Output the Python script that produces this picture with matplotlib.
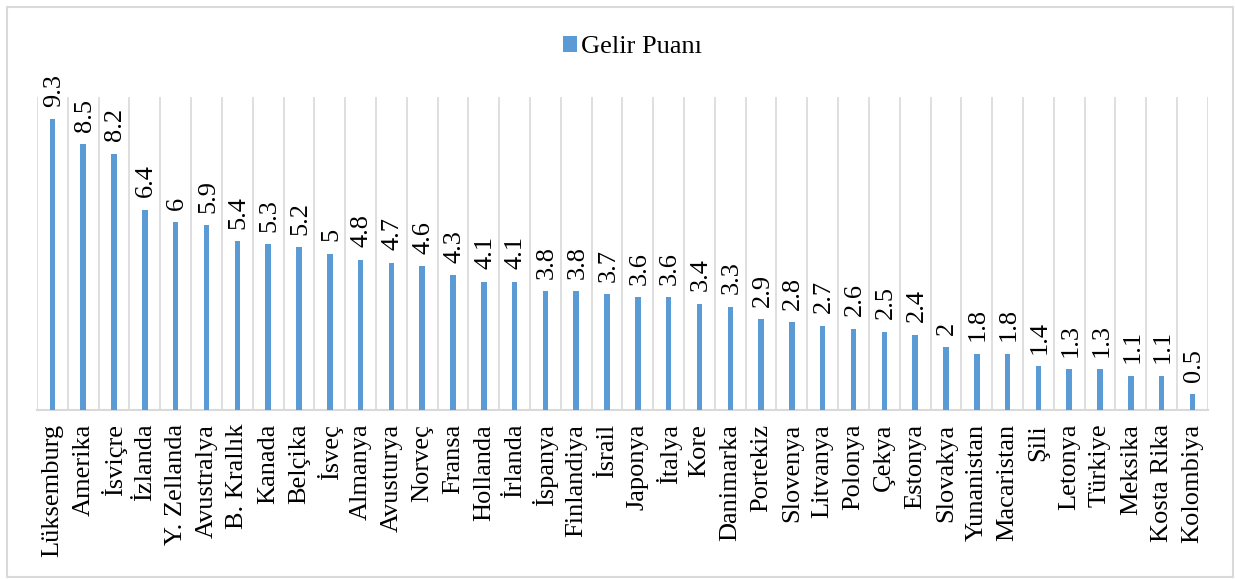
import numpy as np
import matplotlib.pyplot as plt
from matplotlib.patches import Rectangle

countries = ["Lüksemburg", "Amerika", "İsviçre", "İzlanda", "Y. Zellanda", "Avustralya",
             "B. Krallık", "Kanada", "Belçika", "İsveç", "Almanya", "Avusturya", "Norveç",
             "Fransa", "Hollanda", "İrlanda", "İspanya", "Finlandiya", "İsrail", "Japonya",
             "İtalya", "Kore", "Danimarka", "Portekiz", "Slovenya", "Litvanya", "Polonya",
             "Çekya", "Estonya", "Slovakya", "Yunanistan", "Macaristan", "Şili", "Letonya",
             "Türkiye", "Meksika", "Kosta Rika", "Kolombiya"]
gelir = [9.3, 8.5, 8.2, 6.4, 6, 5.9, 5.4, 5.3, 5.2, 5, 4.8, 4.7, 4.6, 4.3, 4.1, 4.1,
         3.8, 3.8, 3.7, 3.6, 3.6, 3.4, 3.3, 2.9, 2.8, 2.7, 2.6, 2.5, 2.4, 2, 1.8, 1.8,
         1.4, 1.3, 1.3, 1.1, 1.1, 0.5]
series_name = "Gelir Puanı"

plt.rcParams['font.family'] = ['Liberation Serif', 'DejaVu Serif']
bar_color = '#5B9BD5'
grid_color = '#D9D9D9'

fig = plt.figure(figsize=(12.35, 5.79), dpi=100)
ax = fig.add_axes([0.030, 0.292, 0.948, 0.540])

x = np.arange(len(countries))
bars = ax.bar(x, gelir, width=0.18, color=bar_color, label=series_name, zorder=3)

# category separators (vertical gridlines)
for b in np.arange(-0.5, len(countries) + 0.5, 1.0):
    ax.axvline(b, color=grid_color, lw=1.2, zorder=1)

for xi, v in zip(x, gelir):
    ax.annotate(f"{v:g}", (xi, v), xytext=(1, 9), textcoords='offset points',
                rotation=90, ha='center', va='bottom', fontsize=19)

ax.set_xlim(-0.5, len(countries) - 0.5)
ax.set_ylim(0, 10)
ax.set_xticks(x)
ax.set_xticklabels(countries, rotation=90, fontsize=19)
ax.tick_params(axis='x', length=0, pad=10)
ax.set_yticks([])
for s in ['top', 'left', 'right']:
    ax.spines[s].set_visible(False)
ax.spines['bottom'].set_color(grid_color)
ax.spines['bottom'].set_linewidth(1.5)

fig.legend(handles=[bars], labels=[series_name], loc='center', bbox_to_anchor=(0.512, 0.919),
           frameon=False, fontsize=19, handlelength=0.55, handleheight=0.55, handletextpad=0.15)

fig.patches.append(Rectangle((7 / 1235, 2 / 579), 1226 / 1235, 570 / 579, transform=fig.transFigure,
                             fill=False, edgecolor=grid_color, lw=1.5))

fig.savefig("out.png", dpi=100)
